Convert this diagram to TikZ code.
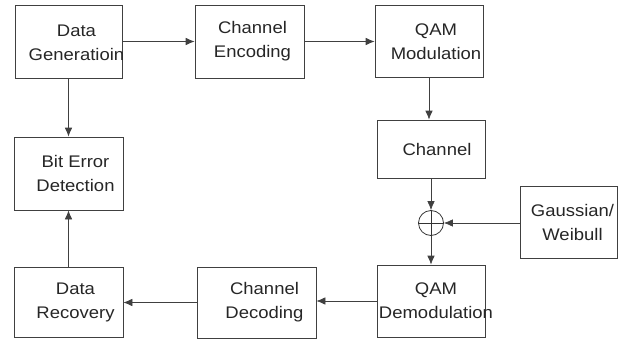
\documentclass[tikz,border=0pt]{standalone}
\usepackage{fontspec}
\setmainfont{Liberation Sans}[FakeStretch=1.1]
\usetikzlibrary{arrows.meta}
\begin{document}
\begin{tikzpicture}[x=1pt,y=-1pt,
  box/.style={draw=black!75, line width=0.7pt, rectangle, inner sep=0pt},
  lbl/.style={align=center, inner sep=0pt, font=\fontsize{16.8}{24}\selectfont, text=black!85},
  arr/.style={draw=black!75, line width=0.7pt, -{Latex[length=9pt,width=7.5pt]}}]
\useasboundingbox (0,0) rectangle (627,340);
% boxes
\node[box, minimum width=107pt, minimum height=73pt] (gen) at (68.5,41.5) {};
\node[box, minimum width=109pt, minimum height=73pt] (enc) at (249.5,41.5) {};
\node[box, minimum width=108pt, minimum height=72pt] (mod) at (429,41.5) {};
\node[box, minimum width=108pt, minimum height=58pt] (chan) at (431,149) {};
\node[draw=black!80, line width=0.8pt, circle, minimum size=25pt, inner sep=0pt] (sum) at (431,223) {};
\node[box, minimum width=97pt, minimum height=72pt] (noise) at (568.5,222) {};
\node[box, minimum width=108pt, minimum height=72pt] (demod) at (431,301) {};
\node[box, minimum width=119pt, minimum height=71pt] (dec) at (256.5,302.5) {};
\node[box, minimum width=109pt, minimum height=70pt] (rec) at (68.5,302) {};
\node[box, minimum width=109pt, minimum height=73pt] (ber) at (68.5,173.5) {};
% labels
\node[lbl] (genT) at ([xshift=8pt,yshift=-1pt]gen.center) {Data\\Generatioin};
\node[lbl] (encT) at ([xshift=3pt]enc.center) {Channel\\Encoding};
\node[lbl] (modT) at ([xshift=7pt]mod.center) {QAM\\Modulation};
\node[lbl] (chanT) at ([xshift=6pt]chan.center) {Channel};
\node[lbl] (noiseT) at ([xshift=4pt]noise.center) {Gaussian/\\Weibull};
\node[lbl] (demodT) at ([xshift=5pt]demod.center) {QAM\\Demodulation};
\node[lbl] (decT) at ([xshift=8pt]dec.center) {Channel\\Decoding};
\node[lbl] (recT) at ([xshift=7pt]rec.center) {Data\\Recovery};
\node[lbl] (berT) at ([xshift=7pt]ber.center) {Bit Error\\Detection};
% plus in circle
\draw[black!80, line width=0.8pt] (sum.north) -- (sum.south) (sum.west) -- (sum.east);
% connectors
\draw[arr] (gen.east) -- (gen.east -| enc.west);
\draw[arr] (enc.east) -- (enc.east -| mod.west);
\draw[arr] (mod.south) -- (mod.south |- chan.north);
\draw[arr] (chan.south) -- (sum.north);
\draw[arr] (noise.west |- sum.east) -- (sum.east);
\draw[arr] (sum.south) -- (sum.south |- demod.north);
\draw[arr] (demod.west) -- (demod.west -| dec.east);
\draw[arr] (dec.west) -- (dec.west -| rec.east);
\draw[arr] (gen.south) -- (gen.south |- ber.north);
\draw[arr] (rec.north) -- (rec.north |- ber.south);
\end{tikzpicture}
\end{document}
